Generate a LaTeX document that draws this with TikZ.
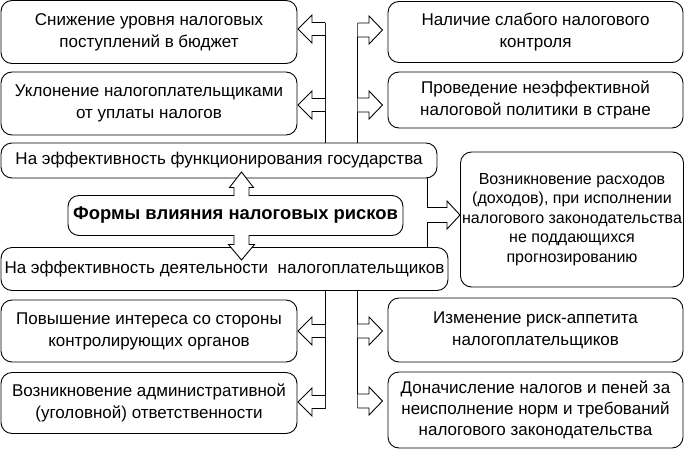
\documentclass[tikz,border=0pt]{standalone}
\usepackage{fontspec}
\setmainfont{Liberation Sans}
\begin{document}
\begin{tikzpicture}[x=1pt,y=-1pt,
  ln/.style={line width=0.9pt},
  box/.style={draw, ln, rounded corners=11pt, align=center, inner sep=0pt,
    font=\fontsize{17}{22}\selectfont},
  pics/blk/.style n args={4}{code={
    \filldraw[fill=white, ln, line join=miter]
      (0,{-#2}) -- ({#1-#3},{-#2}) -- ({#1-#3},{-#4}) -- (#1,0)
      -- ({#1-#3},{#4}) -- ({#1-#3},{#2}) -- (0,{#2});
  }}]
\useasboundingbox (0,0) rectangle (687,450);

% boxes
\node[box, minimum width=296pt, minimum height=63pt] (b1) at (149,32)
  {Снижение уровня налоговых\\поступлений в бюджет};
\node[box, minimum width=296pt, minimum height=63pt] (b2) at (149,103.5)
  {Уклонение налогоплательщиками\\от уплаты налогов};
\node[box, minimum width=295pt, minimum height=61pt] (b3) at (535.5,32)
  {Наличие слабого налогового\\контроля};
\node[box, minimum width=295pt, minimum height=56pt] (b4) at (535.5,100)
  {Проведение неэффективной\\налоговой политики в стране};
\node[box, minimum width=436pt, minimum height=35pt] (top) at (219,160.5)
  {На эффективность функционирования государства};
\node[box, minimum width=335pt, minimum height=40pt, font=\fontsize{18.4}{22}\selectfont\bfseries] (main) at (235.5,215.5)
  {Формы влияния налоговых рисков};
\node[box, minimum width=447pt, minimum height=43pt] (bot) at (224.5,269)
  {На эффективность деятельности\ \ налогоплательщиков};
\node[box, minimum width=223pt, minimum height=135pt, font=\fontsize{16}{19.5}\selectfont] (right) at (572,219.5)
  {Возникновение расходов\\(доходов), при исполнении\\налогового законодательства\\не поддающихся\\прогнозированию};
\node[box, minimum width=296pt, minimum height=62pt] (b5) at (149,331)
  {Повышение интереса со стороны\\контролирующих органов};
\node[box, minimum width=296pt, minimum height=61pt] (b6) at (149,403)
  {Возникновение административной\\(уголовной) ответственности};
\node[box, minimum width=295pt, minimum height=64pt] (b7) at (535.5,330)
  {Изменение риск-аппетита\\налогоплательщиков};
\node[box, minimum width=295pt, minimum height=76pt, font=\fontsize{17}{21}\selectfont] (b8) at (535.5,410)
  {Доначисление налогов и пеней за\\неисполнение норм и требований\\налогового законодательства};

% attachment points
\coordinate (LT) at (325,22.5);
\coordinate (RT) at (357.5,23);
\coordinate (LA1) at (325,29);
\coordinate (LA2) at (325,105);
\coordinate (RA1) at (357.5,30);
\coordinate (RA2) at (357.5,105);
\coordinate (LB) at (325,409);
\coordinate (RB) at (357.5,408);
\coordinate (LA3) at (325,331);
\coordinate (LA4) at (325,402);
\coordinate (RA3) at (357.5,331);
\coordinate (RA4) at (357.5,401);
\coordinate (M) at (427,215);
\coordinate (UP) at (241.5,196);
\coordinate (DN) at (241.5,235);

% connector lines
\draw[ln] (LT) -- (LT |- top.north);
\draw[ln] (RT) -- (RT |- top.north);
\draw[ln] (LB) -- (LB |- bot.south);
\draw[ln] (RB) -- (RB |- bot.south);
\draw[ln] (M |- top.south) -- (M |- bot.north);

% block arrows
\pic[rotate=180] at (LA1) {blk={27}{6.5}{14}{14}};
\pic[rotate=180] at (LA2) {blk={27}{6.5}{14}{14}};
\pic[rotate=180] at (LA3) {blk={27}{6.5}{14}{14}};
\pic[rotate=180] at (LA4) {blk={27}{6.5}{14}{14}};
\pic at (RA1) {blk={25}{7}{13.5}{14}};
\pic at (RA2) {blk={25}{7}{13.5}{14}};
\pic at (RA3) {blk={25}{7}{13.5}{14}};
\pic at (RA4) {blk={25}{7}{13.5}{14}};
\pic at (M) {blk={33}{7.5}{13}{14}};
\pic[rotate=90] at (UP) {blk={24}{7.5}{15.5}{12}};
\pic[rotate=-90] at (DN) {blk={25}{7.5}{15.5}{13}};
\end{tikzpicture}
\end{document}
